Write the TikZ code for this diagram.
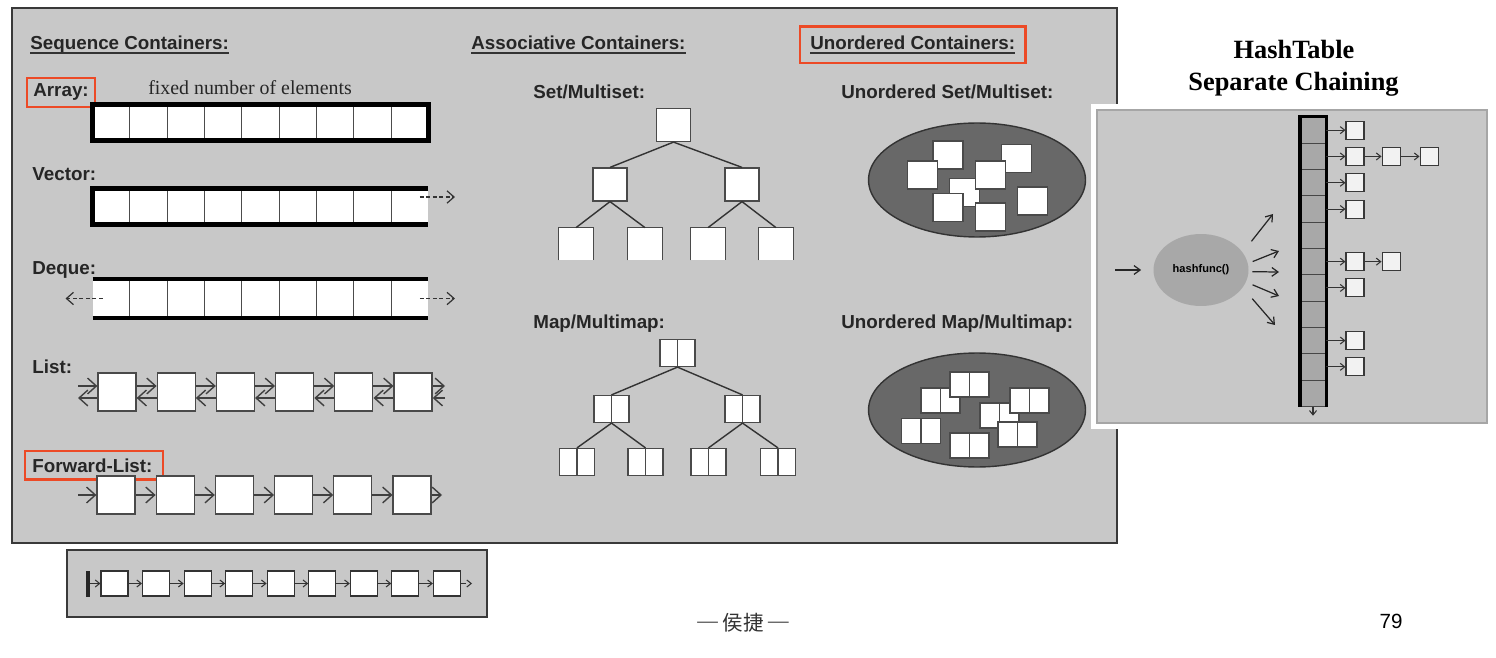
\documentclass[tikz,border=0pt]{standalone}
\usepackage{fontspec}
\setmainfont{Liberation Serif}
\setsansfont{Liberation Sans}
\newfontfamily\cjkfont{Noto Sans CJK SC}
\usetikzlibrary{arrows.meta,positioning,fit,shapes.geometric}

\definecolor{panelgray}{HTML}{C8C8C8}
\definecolor{blobgray}{HTML}{686868}
\definecolor{bucketgray}{HTML}{A8A8A8}
\definecolor{markred}{HTML}{EC4A26}
\definecolor{linegray}{HTML}{4A4A4A}

\begin{document}
\begin{tikzpicture}[
    x=0.02cm, y=-0.02cm,
    panel/.style={draw=gray!45!black, fill=panelgray, line width=0.9pt},
    heading/.style={font=\sffamily\bfseries\fontsize{10.7}{12}\selectfont, text=black!85, inner sep=0pt, anchor=base west},
    underrule/.style={draw=black!80, line width=0.9pt},
    note/.style={font=\fontsize{11.3}{13}\selectfont, text=black!85, inner sep=0pt, anchor=base west},
    redmark/.style={draw=markred, line width=1.4pt, rectangle},
    cell/.style={fill=white, minimum width=0.7466cm, minimum height=0.72cm, inner sep=0pt, outer sep=0pt},
    sep/.style={draw=gray!60!black, line width=0.7pt},
    thickframe/.style={draw=black, line width=2.8pt},
    thickbar/.style={draw=black, line width=2.3pt},
    dashlink/.style={-{Straight Barb[length=4pt,width=7pt]}, dash pattern=on 2.2pt off 1.5pt, line width=0.7pt, black!80},
    listbox/.style={draw=linegray, fill=white, minimum size=0.76cm, inner sep=0pt, line width=0.7pt},
    link/.style={-{Straight Barb[length=5pt,width=9pt]}, line width=0.8pt, black!75},
    treebox/.style={draw=linegray, fill=white, minimum width=0.68cm, minimum height=0.66cm, inner sep=0pt, line width=0.7pt},
    leafbox/.style={fill=white, minimum width=0.68cm, minimum height=0.64cm, inner sep=0pt},
    leafedge/.style={draw=linegray, line width=0.7pt},
    pairbox/.style={treebox, minimum width=0.7cm, minimum height=0.54cm,
        path picture={\draw[linegray, line width=0.6pt] (path picture bounding box.north) -- (path picture bounding box.south);}},
    branch/.style={draw=black!80, line width=0.8pt},
    blob/.style={ellipse, draw=black!80, line width=0.8pt, fill=blobgray, minimum width=4.34cm, minimum height=2.28cm},
    elem/.style={draw=linegray, fill=white, minimum width=0.6cm, minimum height=0.56cm, inner sep=0pt, line width=0.6pt},
    pairelem/.style={pairbox, minimum width=0.78cm, minimum height=0.5cm},
    bucket/.style={draw=gray!55!black, fill=bucketgray, minimum width=0.52cm, minimum height=0.526cm, inner sep=0pt, line width=0.5pt},
    colframe/.style={draw=black, line width=2.2pt},
    chainbox/.style={draw=gray!45!black, fill=gray!10, minimum size=0.36cm, inner sep=0pt, line width=0.6pt},
    chainlink/.style={-{Straight Barb[length=2.5pt,width=4pt]}, draw=gray!40!black, line width=0.6pt},
    hashfn/.style={ellipse, fill=bucketgray, minimum width=1.9cm, minimum height=1.44cm, inner sep=0pt,
        font=\sffamily\bfseries\fontsize{6.3}{7}\selectfont},
    fanarrow/.style={-{Straight Barb[length=3.5pt,width=5pt]}, line width=0.7pt, black!85},
    titletext/.style={font=\bfseries\fontsize{15}{17.6}\selectfont, inner sep=0pt, anchor=base},
    mini/.style={draw=gray!40!black, fill=white, minimum width=0.54cm, minimum height=0.5cm, inner sep=0pt, line width=0.6pt},
    headbar/.style={fill=gray!30!black, minimum width=0.08cm, minimum height=0.52cm, inner sep=0pt}
]
\useasboundingbox (0,0) rectangle (1496,658);
\fill[white] (0,0) rectangle (1496,658);

% panels
\draw[panel] (12,8) rectangle (1117,543);
\fill[white] (1091,104) rectangle (1493,429);
\draw[panel, draw=gray!70] (1097,110) rectangle (1487,423);
\draw[panel] (67,550) rectangle (487,617);

% headings
\node[heading] (seqhead) at (30,50) {Sequence Containers:};
\node[heading] (assochead) at (471,50) {Associative Containers:};
\node[heading] (unordhead) at (810,50) {Unordered Containers:};
\foreach \h in {seqhead,assochead,unordhead}
    \draw[underrule] ([yshift=-1.6pt]\h.base west) -- ([yshift=-1.6pt]\h.base east);
\node[redmark, fit=(unordhead), inner xsep=0.2cm, inner ysep=0.22cm, yshift=-0.03cm] (unordmark) {};

% array
\node[heading] (arraylbl) at (33,97) {Array:};
\node[redmark, fit=(arraylbl), inner xsep=0.12cm, inner ysep=0.11cm] (arraymark) {};
\node[note] (fixednote) at (148,95) {fixed number of elements};
\foreach \i in {1,...,9}
    \node[cell] (arr\i) at ({92.5+37.33*(\i-0.5)},122.5) {};
\foreach \i in {1,...,8}
    \draw[sep] (arr\i.north east) -- (arr\i.south east);
\draw[thickframe] (arr1.north west) rectangle (arr9.south east);

% vector
\node[heading] (veclbl) at (32,181) {Vector:};
\foreach \i in {1,...,9}
    \node[cell] (vec\i) at ({92.5+37.33*(\i-0.5)},206.5) {};
\foreach \i in {1,...,8}
    \draw[sep] (vec\i.north east) -- (vec\i.south east);
\draw[thickframe] (vec9.north east) -- (vec1.north west) -- (vec1.south west) -- (vec9.south east);
\draw[dashlink] ([xshift=-0.17cm,yshift=0.19cm]vec9.east) -- ++(35,0);

% deque
\node[heading] (deqlbl) at (32,275) {Deque:};
\foreach \i in {1,...,9}
    \node[cell, minimum height=0.78cm] (deq\i) at ({92.5+37.33*(\i-0.5)},298.5) {};
\foreach \i in {1,...,8}
    \draw[sep] (deq\i.north east) -- (deq\i.south east);
\draw[thickbar] (deq1.north west) -- (deq9.north east);
\draw[thickbar] (deq1.south west) -- (deq9.south east);
\draw[dashlink] ([xshift=0.2cm]deq1.west) -- ++(-37,0);
\draw[dashlink] ([xshift=-0.17cm]deq9.east) -- ++(35,0);

% list
\node[heading] (listlbl) at (32,373) {List:};
\node[listbox] (ls1) at (117,392) {};
\foreach \i [remember=\i as \prev (initially 1)] in {2,...,6}
    \node[listbox, right=0.4cm of ls\prev] (ls\i) {};
\coordinate (lsin) at (78,392);
\coordinate (lsout) at (445,392);
\draw[link] ([yshift=0.12cm]lsin) -- ([yshift=0.12cm]ls1.west);
\draw[link] ([yshift=-0.12cm]ls1.west) -- ([yshift=-0.12cm]lsin);
\foreach \i [remember=\i as \prev (initially 1)] in {2,...,6} {
    \draw[link] ([yshift=0.12cm]ls\prev.east) -- ([yshift=0.12cm]ls\i.west);
    \draw[link] ([yshift=-0.12cm]ls\i.west) -- ([yshift=-0.12cm]ls\prev.east);
}
\draw[link] ([yshift=0.12cm]ls6.east) -- ([yshift=0.12cm]lsout);
\draw[link] ([yshift=-0.12cm]lsout) -- ([yshift=-0.12cm]ls6.east);

% forward list
\node[heading] (fwdlbl) at (32,472) {Forward-List:};
\node[redmark, fit=(fwdlbl), inner xsep=0.17cm, inner ysep=0.14cm, xshift=0.03cm] (fwdmark) {};
\node[listbox] (fl1) at (116,495) {};
\foreach \i [remember=\i as \prev (initially 1)] in {2,...,6}
    \node[listbox, right=0.4cm of fl\prev] (fl\i) {};
\coordinate (flin) at (78,495);
\coordinate (flout) at (442,495);
\draw[link] (flin) -- (fl1.west);
\foreach \i [remember=\i as \prev (initially 1)] in {2,...,6}
    \draw[link] (fl\prev.east) -- (fl\i.west);
\draw[link] (fl6.east) -- (flout);

% set / multiset tree
\node[heading] (setlbl) at (533,99) {Set/Multiset:};
\node[treebox] (sroot) at (673.5,125) {};
\node[treebox] (sl) at (610,184.5) {};
\node[treebox] (sr) at (742,184.5) {};
\node[leafbox] (sll) at (576,244) {};
\node[leafbox] (slr) at (645,244) {};
\node[leafbox] (srl) at (708,244) {};
\node[leafbox] (srr) at (776,244) {};
\foreach \n in {sll,slr,srl,srr}
    \draw[leafedge] (\n.south west) -- (\n.north west) -- (\n.north east) -- (\n.south east);
\draw[branch] (sroot.south) -- (sl.north);
\draw[branch] (sroot.south) -- (sr.north);
\draw[branch] (sl.south) -- (sll.north);
\draw[branch] (sl.south) -- (slr.north);
\draw[branch] (sr.south) -- (srl.north);
\draw[branch] (sr.south) -- (srr.north);

% map / multimap tree
\node[heading] (maplbl) at (533,328) {Map/Multimap:};
\node[pairbox] (mroot) at (677.5,353) {};
\node[pairbox] (ml) at (611.5,409) {};
\node[pairbox] (mr) at (742.5,409) {};
\node[pairbox] (mll) at (577,462) {};
\node[pairbox] (mlr) at (645.5,462) {};
\node[pairbox] (mrl) at (708.5,462) {};
\node[pairbox] (mrr) at (778,462) {};
\draw[branch] (mroot.south) -- (ml.north);
\draw[branch] (mroot.south) -- (mr.north);
\draw[branch] (ml.south) -- (mll.north);
\draw[branch] (ml.south) -- (mlr.north);
\draw[branch] (mr.south) -- (mrl.north);
\draw[branch] (mr.south) -- (mrr.north);

% unordered set / multiset
\node[heading] (uslbl) at (841,99) {Unordered Set/Multiset:};
\node[blob] (uset) at (977,180) {};
\foreach \n/\x/\y in {e1/948/155, e3/1016.5/158.5, e5/964.5/192.5, e2/922.5/175,
                      e4/990.5/175, e6/948/207.5, e8/990.5/217, e7/1032.5/201}
    \node[elem] (\n) at (\x,\y) {};

% unordered map / multimap
\node[heading] (umlbl) at (841,328) {Unordered Map/Multimap:};
\node[blob] (umap) at (977,410) {};
\foreach \n/\x/\y in {p2/940.5/400.5, p1/969.5/384.5, p4/999.5/415.5, p3/1029.5/400.5,
                      p5/1017.5/434.5, p6/921/431, p7/969.5/445.5}
    \node[pairelem] (\n) at (\x,\y) {};

% hash table
\node[titletext] (httitle) at (1294,58.5) {HashTable};
\node[titletext] (htsub) at (1293.5,90.5) {Separate Chaining};
\foreach \i in {1,...,11}
    \node[bucket] (bk\i) at (1313,{117+26.3*(\i-0.5)}) {};
\draw[colframe] (bk11.south west) -- (bk1.north west) -- (bk1.north east) -- (bk11.south east);
\draw[chainlink] (bk11.south) -- ++(0,9);
\foreach \b in {1,2,3,4,6,7,9,10} {
    \node[chainbox, right=0.38cm of bk\b] (c\b) {};
    \draw[chainlink] (bk\b.east) -- (c\b.west);
}
\node[chainbox, right=0.34cm of c2] (c2b) {};
\node[chainbox, right=0.38cm of c2b] (c2c) {};
\node[chainbox, right=0.34cm of c6] (c6b) {};
\draw[chainlink] (c2) -- (c2b);
\draw[chainlink] (c2b) -- (c2c);
\draw[chainlink] (c6) -- (c6b);

\node[hashfn] (hf) at (1201,270) {hashfunc()};
\coordinate (hkey) at (1115,270);
\draw[fanarrow, shorten >=0.24cm] (hkey) -- (hf.west);
\coordinate (o1) at (1273,214);
\coordinate (o2) at (1279,251);
\coordinate (o3) at (1279,272);
\coordinate (o4) at (1279,296);
\coordinate (o5) at (1275,325);
\foreach \a/\o/\s in {23.7/o1/0.28, 8.9/o2/0.1, -2/o3/0.07, -15.5/o4/0.14, -23.7/o5/0.29}
    \draw[fanarrow, shorten <=\s cm] (hf.\a) -- (\o);

% singly linked strip
\node[headbar] (sl0) at (87.5,583.5) {};
\node[mini] (sl1) at (114.5,583.5) {};
\foreach \i [remember=\i as \prev (initially 1)] in {2,...,9}
    \node[mini, right=0.27cm of sl\prev] (sl\i) {};
\foreach \i [remember=\i as \prev (initially 0)] in {1,...,9}
    \draw[chainlink] (sl\prev.east) -- (sl\i.west);
\coordinate (slout) at (472,583.5);
\draw[chainlink, dashed] (sl9.east) -- (slout);

% footer
\node[font=\cjkfont\fontsize{11.7}{13}\selectfont, text=black!80] (footer) at (743,623)
    {\raisebox{0.3ex}{\rmfamily —} 侯捷 \raisebox{0.3ex}{\rmfamily —}};
\node[font=\sffamily\fontsize{11.7}{13}\selectfont] (pgno) at (1391,621) {79};
\end{tikzpicture}
\end{document}
